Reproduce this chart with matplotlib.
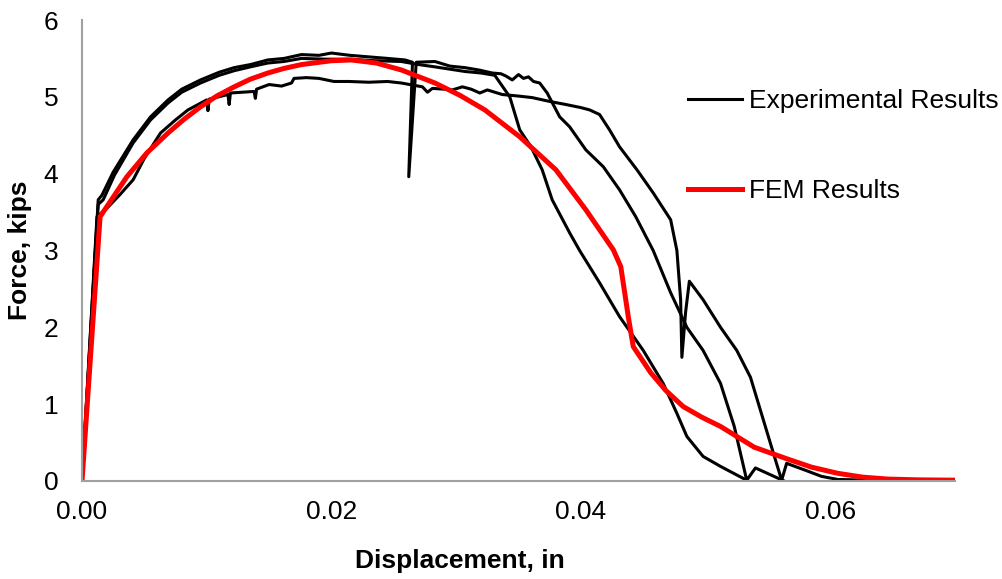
import matplotlib
matplotlib.use("Agg")
import matplotlib.pyplot as plt

plt.rcParams['font.family'] = ['Liberation Sans', 'DejaVu Sans']

# experimental curve A (lower plateau, late drop with a dip)
exp_a_x = [0.0, 0.0012, 0.0020, 0.0030, 0.0041, 0.0050, 0.0063, 0.0075, 0.0085, 0.0100,
           0.0101, 0.0102, 0.0117, 0.0118, 0.0119, 0.0138, 0.0139, 0.0140, 0.0150, 0.0160,
           0.0168, 0.0170, 0.0180, 0.0190, 0.0202, 0.0214, 0.0230, 0.0245, 0.0256, 0.0273,
           0.0277, 0.0281, 0.0290, 0.0297, 0.0305, 0.0312, 0.0319, 0.0325, 0.0337, 0.0350,
           0.0361, 0.0375, 0.0388, 0.0400, 0.0407, 0.0415, 0.0423, 0.0431, 0.0445, 0.0458,
           0.0472, 0.0477, 0.0480, 0.0481, 0.0484, 0.0487, 0.0498, 0.0512, 0.0525, 0.0536,
           0.0544, 0.0552, 0.0561, 0.0565, 0.0580, 0.0593, 0.0606, 0.0633]
exp_a_y = [0.0, 3.44, 3.55, 3.72, 3.92, 4.20, 4.53, 4.70, 4.83, 4.96,
           4.82, 4.97, 5.03, 4.90, 5.05, 5.07, 4.98, 5.10, 5.16, 5.14,
           5.18, 5.24, 5.25, 5.24, 5.20, 5.20, 5.19, 5.20, 5.18, 5.13,
           5.06, 5.11, 5.10, 5.09, 5.13, 5.10, 5.05, 5.09, 5.03, 5.01,
           4.99, 4.94, 4.90, 4.86, 4.83, 4.77, 4.57, 4.35, 4.05, 3.75,
           3.40, 3.00, 2.36, 1.61, 2.20, 2.60, 2.36, 2.00, 1.70, 1.35,
           0.92, 0.49, 0.01, 0.23, 0.14, 0.06, 0.02, 0.01]

# experimental curve B (upper plateau, spike near 0.026, middle drop)
exp_b_x = [0.0, 0.0013, 0.0016, 0.0025, 0.0041, 0.0055, 0.0069, 0.0080, 0.0095, 0.0110,
           0.0122, 0.0135, 0.0149, 0.0162, 0.0176, 0.0190, 0.0200, 0.0215, 0.0230, 0.0245,
           0.0259, 0.0265, 0.0262, 0.0268, 0.0283, 0.0295, 0.0307, 0.0318, 0.0329, 0.0336,
           0.0340, 0.0345, 0.0350, 0.0354, 0.0358, 0.0362, 0.0367, 0.0373, 0.0383, 0.0391,
           0.0404, 0.0418, 0.0431, 0.0444, 0.0458, 0.0472, 0.0485, 0.0498, 0.0512, 0.0523,
           0.0533, 0.0540, 0.0563]
exp_b_y = [0.0, 3.66, 3.72, 4.02, 4.44, 4.74, 4.96, 5.10, 5.22, 5.32,
           5.38, 5.42, 5.48, 5.50, 5.55, 5.54, 5.57, 5.54, 5.52, 5.50,
           5.48, 5.45, 3.96, 5.45, 5.46, 5.40, 5.38, 5.35, 5.31, 5.30,
           5.27, 5.22, 5.29, 5.24, 5.26, 5.20, 5.18, 5.05, 4.74, 4.61,
           4.31, 4.09, 3.79, 3.44, 3.00, 2.45, 2.00, 1.70, 1.27, 0.71,
           0.01, 0.17, 0.0]

# experimental curve C (upper plateau, first drop)
exp_c_x = [0.0, 0.0013, 0.0017, 0.0026, 0.0041, 0.0055, 0.0069, 0.0080, 0.0095, 0.0110,
           0.0122, 0.0135, 0.0149, 0.0162, 0.0176, 0.0195, 0.0214, 0.0235, 0.0256, 0.0270,
           0.0283, 0.0295, 0.0307, 0.0320, 0.0331, 0.0343, 0.0351, 0.0360, 0.0369, 0.0377,
           0.0391, 0.0399, 0.0415, 0.0431, 0.0450, 0.0466, 0.0477, 0.0485, 0.0498, 0.0512,
           0.0533]
exp_c_y = [0.0, 3.60, 3.66, 3.98, 4.40, 4.70, 4.92, 5.06, 5.18, 5.28,
           5.34, 5.39, 5.44, 5.46, 5.50, 5.49, 5.49, 5.47, 5.46, 5.42,
           5.39, 5.36, 5.33, 5.31, 5.28, 5.00, 4.57, 4.35, 4.05, 3.66,
           3.23, 3.00, 2.58, 2.14, 1.70, 1.27, 0.88, 0.58, 0.32, 0.19,
           0.01]

# FEM result
fem_x = [0.0, 0.00145, 0.0036, 0.0052, 0.0069, 0.0082, 0.0095, 0.0108, 0.0122, 0.0135,
         0.0149, 0.0162, 0.0176, 0.0200, 0.0216, 0.0236, 0.0256, 0.0283, 0.0303, 0.0323,
         0.0351, 0.0380, 0.0404, 0.0426, 0.0432, 0.0436, 0.0438, 0.0442, 0.0456, 0.0468,
         0.0482, 0.0497, 0.0512, 0.0539, 0.0565, 0.0585, 0.0606, 0.0626, 0.0646, 0.0670,
         0.0704]
fem_y = [0.0, 3.44, 3.96, 4.27, 4.53, 4.71, 4.87, 5.01, 5.13, 5.23,
         5.31, 5.37, 5.42, 5.47, 5.48, 5.44, 5.35, 5.18, 5.02, 4.83,
         4.48, 4.05, 3.53, 3.01, 2.79, 2.36, 2.14, 1.75, 1.41, 1.18,
         0.97, 0.83, 0.71, 0.44, 0.29, 0.18, 0.10, 0.05, 0.025, 0.015,
         0.01]

x_ticks = [0.0, 0.02, 0.04, 0.06]
y_ticks = [0, 1, 2, 3, 4, 5, 6]

fig = plt.figure(figsize=(10.03, 5.79), dpi=100)
ax = fig.add_axes([82 / 1003, 98 / 579, 873 / 1003, 461 / 579])

ax.plot(exp_a_x, exp_a_y, color='black', lw=2.2, label='Experimental Results')
ax.plot(exp_b_x, exp_b_y, color='black', lw=2.2)
ax.plot(exp_c_x, exp_c_y, color='black', lw=2.2)
ax.plot(fem_x, fem_y, color='#ff0000', lw=3.6, label='FEM Results')

ax.set_xlim(0, 0.07)
ax.set_ylim(0, 6)
ax.set_xticks(x_ticks)
ax.set_xticklabels(['%.2f' % t for t in x_ticks])
ax.set_yticks(y_ticks)
ax.tick_params(axis='both', length=0, labelsize=19)
ax.tick_params(axis='x', pad=14)
ax.tick_params(axis='y', pad=17)

for s in ['top', 'right']:
    ax.spines[s].set_visible(False)
for s in ['left', 'bottom']:
    ax.spines[s].set_color('#a0a0a0')
    ax.spines[s].set_linewidth(1.5)

ax.set_xlabel('Displacement, in', fontsize=19, fontweight='bold')
ax.xaxis.set_label_coords(0.433, -0.148)
ax.set_ylabel('Force, kips', fontsize=19, fontweight='bold')
ax.yaxis.set_label_coords(-0.057, 0.5)

ax.legend(loc='upper left', bbox_to_anchor=(0.694, 0.85), frameon=False,
          fontsize=19, handlelength=2.05, handletextpad=0.25, labelspacing=2.5,
          borderpad=0, borderaxespad=0)

fig.savefig('out.png', dpi=100)
